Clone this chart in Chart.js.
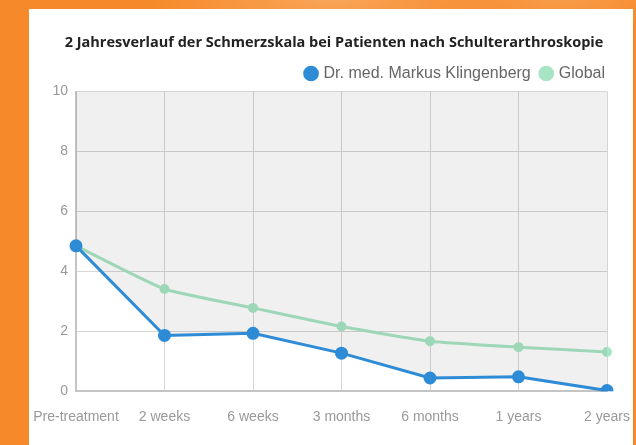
<!DOCTYPE html>
<html>
<head>
<meta charset="utf-8">
<script src="https://cdn.jsdelivr.net/npm/chart.js@4/dist/chart.umd.min.js"></script>
<style>
  html, body { margin: 0; padding: 0; }
  body {
    width: 636px; height: 445px; overflow: hidden; position: relative;
    background: #f68a2b;
    background-image:
      radial-gradient(ellipse 180px 40px at 330px 0px, #f9a558 0%, rgba(249,165,88,0) 100%),
      radial-gradient(ellipse 120px 30px at 560px 0px, #f89c49 0%, rgba(248,156,73,0) 100%);
  }
  #card { position: absolute; left: 29px; top: 9px; width: 604px; height: 436px; background: #fff; }
  #wrap { position: absolute; left: 0; top: 0; width: 636px; height: 445px; }
</style>
</head>
<body>
<div id="card"></div>
<div id="wrap"><canvas id="painChart"></canvas></div>
<script>
let labels = ["Pre-treatment", "2 weeks", "6 weeks", "3 months", "6 months", "1 years", "2 years"];
let doctorValues = [4.85, 1.86, 1.93, 1.27, 0.44, 0.48, 0.02];
let globalValues = [4.85, 3.41, 2.78, 2.16, 1.67, 1.47, 1.31];
let seriesNames = ["Dr. med. Markus Klingenberg", "Global"];
let seriesColors = ["#2e8bd6", "#a8e5c4"];

let ctx = document.getElementById("painChart").getContext("2d");

let painChart = new Chart(ctx, {
    type: "line",
    data: {
        labels: labels,
        datasets: [
            {
                label: seriesNames[0],
                data: doctorValues,
                borderColor: seriesColors[0],
                backgroundColor: "rgba(0,0,0,0.06)",
                pointBackgroundColor: seriesColors[0],
                pointBorderColor: seriesColors[0],
                borderWidth: 3,
                pointRadius: 5,
                fill: "end",
                tension: 0,
                order: 0
            },
            {
                label: seriesNames[1],
                data: globalValues,
                borderColor: seriesColors[1],
                backgroundColor: seriesColors[1],
                pointBackgroundColor: seriesColors[1],
                pointBorderColor: seriesColors[1],
                borderWidth: 3,
                pointRadius: 3.5,
                fill: false,
                tension: 0.15,
                order: 1
            }
        ]
    },
    options: {
        responsive: true,
        maintainAspectRatio: false,
        animation: false,
        layout: { padding: { left: 52, right: 20, top: 0, bottom: 1 } },
        plugins: {
            title: {
                display: true,
                text: "2 Jahresverlauf der Schmerzskala bei Patienten nach Schulterarthroskopie",
                color: "#222",
                font: { family: "'Open Sans'", size: 14.5, weight: "bold", lineHeight: 1 },
                padding: { top: 36, bottom: 4 }
            },
            legend: {
                align: "end",
                labels: {
                    usePointStyle: true,
                    pointStyle: "circle",
                    boxHeight: 9,
                    boxWidth: 9,
                    color: "#666",
                    font: { family: "'Liberation Sans'", size: 16 },
                    padding: 11,
                    generateLabels: function (chart) {
                        let items = Chart.defaults.plugins.legend.labels.generateLabels(chart);
                        items.forEach(function (it, i) {
                            it.fillStyle = seriesColors[i];
                            it.strokeStyle = seriesColors[i];
                        });
                        return items;
                    }
                }
            },
            tooltip: { enabled: false }
        },
        scales: {
            x: {
                offset: false,
                grid: { color: "#d6d6d6", drawTicks: false },
                border: { color: "#c4c4c4", width: 2 },
                ticks: { color: "#999", font: { family: "'Liberation Sans'", size: 14 }, padding: 18, maxRotation: 0 },
                afterFit: function (scale) { scale.paddingLeft = 0; scale.paddingRight = 29; }
            },
            y: {
                min: 0,
                max: 10,
                grid: { color: "#d6d6d6", drawTicks: false },
                border: { color: "#c4c4c4", width: 2 },
                ticks: { stepSize: 2, color: "#999", font: { family: "'Liberation Sans'", size: 14 }, padding: 8 },
                afterFit: function (scale) { scale.width = 24; }
            }
        }
    }
});
</script>
</body>
</html>
